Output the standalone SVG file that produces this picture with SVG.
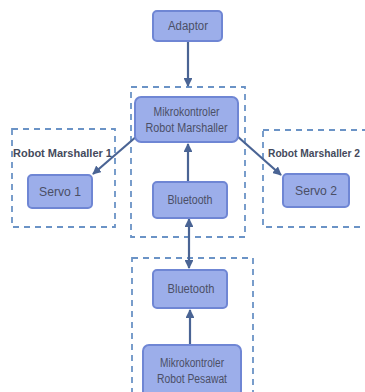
<svg xmlns="http://www.w3.org/2000/svg" width="365" height="392" viewBox="0 0 365 392">
<defs>
<style>
.node rect{fill:#9caeea;stroke:#6f86d4;stroke-width:2}
.node text{font-family:"Liberation Sans",sans-serif;font-size:12px;fill:#4b4f66;text-anchor:middle}
.grp{fill:none;stroke:#6b93c6;stroke-width:1.8;stroke-dasharray:6,5}
.lbl{font-family:"Liberation Sans",sans-serif;font-size:10.5px;font-weight:bold;fill:#444a5c}
.conn line{stroke:#4a6494;stroke-width:2.2}
</style>
<marker id="ah" viewBox="0 0 10 10" refX="9" refY="5" markerWidth="4" markerHeight="4" orient="auto-start-reverse">
<path d="M0,0 L10,5 L0,10 z" fill="#4a6494"/>
</marker>
</defs>
<rect width="365" height="392" fill="#ffffff"/>
<g id="groups">
<rect class="grp" x="131" y="87" width="114" height="150"/>
<rect class="grp" x="12" y="129" width="103" height="98"/>
<rect class="grp" x="263" y="130" width="110" height="97"/>
<rect class="grp" x="132" y="258" width="121" height="145"/>
<text class="lbl" x="13" y="157" textLength="99" lengthAdjust="spacingAndGlyphs">Robot Marshaller 1</text>
<text class="lbl" x="268" y="157" textLength="92" lengthAdjust="spacingAndGlyphs">Robot Marshaller 2</text>
</g>
<g class="conn" id="connectors">
<line x1="188" y1="41" x2="188" y2="86" marker-end="url(#ah)"/>
<line x1="137" y1="136" x2="93" y2="174" marker-end="url(#ah)"/>
<line x1="237" y1="136" x2="281" y2="175" marker-end="url(#ah)"/>
<line x1="188" y1="182" x2="188" y2="144" marker-end="url(#ah)"/>
<line x1="189" y1="219" x2="189" y2="268" marker-start="url(#ah)" marker-end="url(#ah)"/>
<line x1="190" y1="345" x2="190" y2="310" marker-end="url(#ah)"/>
</g>
<g class="node" id="adaptor"><rect x="153" y="11" width="69" height="30" rx="4"/><text x="188" y="30" textLength="40" lengthAdjust="spacingAndGlyphs">Adaptor</text></g>
<g class="node" id="mk-marshaller"><rect x="135" y="97" width="103" height="45" rx="6"/><text x="186.5" y="116" textLength="66" lengthAdjust="spacingAndGlyphs">Mikrokontroler</text><text x="186.5" y="132" textLength="82" lengthAdjust="spacingAndGlyphs">Robot Marshaller</text></g>
<g class="node" id="servo1"><rect x="28" y="175" width="64" height="33" rx="4"/><text x="60" y="196" textLength="42" lengthAdjust="spacingAndGlyphs">Servo 1</text></g>
<g class="node" id="servo2"><rect x="283" y="174" width="66" height="33" rx="4"/><text x="316" y="195" textLength="42" lengthAdjust="spacingAndGlyphs">Servo 2</text></g>
<g class="node" id="bt1"><rect x="153" y="182" width="74" height="36" rx="4"/><text x="190" y="204" textLength="45" lengthAdjust="spacingAndGlyphs">Bluetooth</text></g>
<g class="node" id="bt2"><rect x="153" y="270" width="74" height="38" rx="4"/><text x="191" y="293" textLength="47" lengthAdjust="spacingAndGlyphs">Bluetooth</text></g>
<g class="node" id="mk-pesawat"><rect x="143" y="345" width="98" height="52" rx="6"/><text x="192" y="367" textLength="64" lengthAdjust="spacingAndGlyphs">Mikrokontroler</text><text x="192" y="383" textLength="70" lengthAdjust="spacingAndGlyphs">Robot Pesawat</text></g>
</svg>
